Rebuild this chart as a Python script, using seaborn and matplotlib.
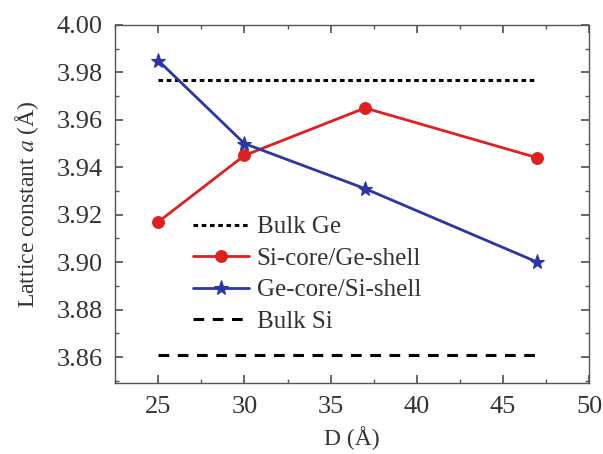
import matplotlib
matplotlib.use("Agg")
import matplotlib.pyplot as plt
import seaborn as sns
import pandas as pd
from matplotlib.ticker import MultipleLocator

sns.set_theme(style="ticks")
plt.rcParams['font.family'] = ['Liberation Serif', 'DejaVu Serif']
plt.rcParams['mathtext.fontset'] = 'stix'

D = [25, 30, 37, 47]
si_core = [3.917, 3.945, 3.965, 3.944]
ge_core = [3.985, 3.950, 3.931, 3.900]
bulk_x = [25, 47]
bulk_ge = [3.977, 3.977]
bulk_si = [3.861, 3.861]

fig = plt.figure(figsize=(6.03, 4.54), dpi=100)
ax = fig.add_axes([0.191, 0.156, 0.786, 0.789])

red = "#e02020"
blue = "#2a36a8"

sns.lineplot(x=bulk_x, y=bulk_ge, ax=ax, color="black", lw=2.2, linestyle=(0, (1.5, 1.2)), label="Bulk Ge")
sns.lineplot(x=D, y=si_core, ax=ax, color=red, lw=2, marker="o", markersize=8.5, markeredgecolor=red, label="Si-core/Ge-shell")
sns.lineplot(x=D, y=ge_core, ax=ax, color=blue, lw=2, marker="*", markersize=11, markeredgecolor=blue, label="Ge-core/Si-shell")
sns.lineplot(x=bulk_x, y=bulk_si, ax=ax, color="black", lw=2.2, linestyle=(0, (3.5, 2.8)), label="Bulk Si")

ax.set_xlim(22.5, 50)
ax.set_ylim(3.849, 4.0)
ax.xaxis.set_major_locator(MultipleLocator(5))
ax.xaxis.set_minor_locator(MultipleLocator(2.5))
ax.yaxis.set_major_locator(MultipleLocator(0.02))
ax.yaxis.set_minor_locator(MultipleLocator(0.01))
ax.yaxis.set_major_formatter(matplotlib.ticker.FormatStrFormatter("%.2f"))
ax.tick_params(which="both", direction="in", top=True, right=True, colors="#555555", labelcolor="#333333", labelsize=19)
ax.tick_params(which="major", length=6, pad=9)
ax.tick_params(which="minor", length=3)
for s in ax.spines.values():
    s.set_color("#555555")
    s.set_linewidth(1.0)

ax.set_xlabel("D (Å)", fontsize=17, color="#333333", labelpad=6)
ax.set_ylabel("Lattice constant $a$ (Å)", fontsize=17, color="#333333", labelpad=11)

leg = ax.legend(loc="upper left", bbox_to_anchor=(0.143, 0.495), borderaxespad=0, frameon=False, fontsize=18,
                handlelength=2.25, labelspacing=0.36, handletextpad=0.3)
for t in leg.get_texts():
    t.set_color("#333333")

fig.savefig("out.png", dpi=100)
